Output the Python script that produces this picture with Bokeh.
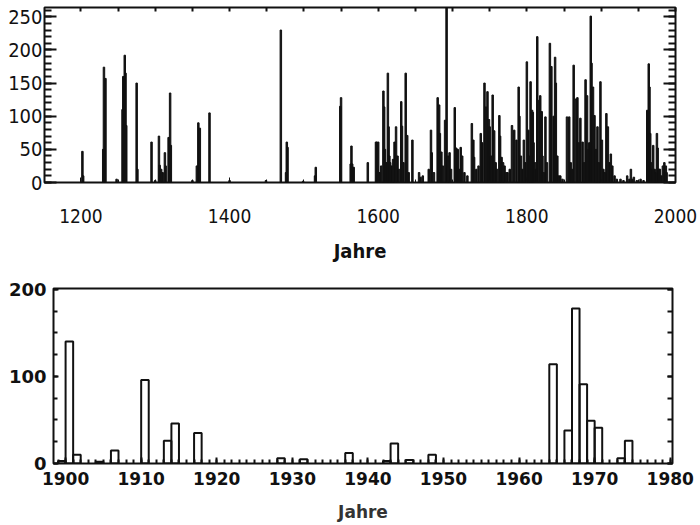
import numpy as np
from bokeh.plotting import figure
from bokeh.models import (LinearAxis, SingleIntervalTicker, Range1d, ColumnDataSource,
                          CustomJSTickFormatter)
from bokeh.embed import file_html
from bokeh.resources import INLINE

# ---------------- data: top panel (annual values, 1150-2000) ----------------
top_years = [
    1202, 1203, 1230, 1231, 1233, 1248, 1256, 1257, 1258, 1259, 1260, 1261,
    1275, 1276, 1295, 1300, 1305, 1306, 1308, 1310, 1313, 1314, 1318, 1320, 1321,
    1350, 1356, 1358, 1360, 1373, 1400, 1449, 1469, 1476, 1477, 1478, 1499,
    1515, 1516, 1549, 1550, 1563, 1564, 1565, 1567, 1586,
    1597, 1598, 1599, 1600, 1602, 1604, 1607, 1608, 1609, 1611, 1613, 1614, 1615,
    1616, 1618, 1620, 1622, 1624, 1626, 1628, 1631, 1632, 1634, 1637, 1639, 1641,
    1646, 1655, 1657, 1660, 1668, 1671, 1672, 1675, 1680, 1682, 1683, 1685, 1687,
    1690, 1692, 1694, 1696, 1698, 1703, 1705, 1707, 1709, 1711, 1713, 1716, 1720,
    1726, 1728, 1729, 1732, 1735, 1738, 1740, 1743, 1745, 1747, 1749, 1750, 1752,
    1754, 1756, 1758, 1760, 1763, 1764, 1766, 1768, 1770, 1772, 1774, 1777,
    1780, 1783, 1786, 1789, 1790, 1792, 1794, 1796, 1798, 1800, 1802, 1803, 1805,
    1807, 1808, 1809, 1811, 1812, 1814, 1815, 1818, 1820, 1821, 1823, 1825, 1827,
    1831, 1833, 1836, 1838, 1839, 1841, 1843, 1845, 1848, 1854, 1857, 1859, 1861,
    1863, 1866, 1868, 1870, 1872, 1875, 1877, 1879, 1881, 1883, 1884,
    1886, 1887, 1889, 1891, 1893, 1895, 1897, 1899, 1901, 1903, 1905, 1907, 1909,
    1911, 1913, 1915, 1918, 1921, 1926, 1930, 1935, 1938, 1940, 1942, 1944, 1948,
    1953, 1957, 1962, 1963, 1964, 1965, 1966, 1967, 1968, 1970, 1972, 1973, 1975,
    1976, 1978, 1979, 1981, 1983, 1985, 1987, 1988,
]
top_vals = [
    47, 10, 50, 174, 157, 5, 110, 160, 86, 192, 165, 86,
    150, 20, 61, 3, 70, 26, 20, 15, 45, 25, 68, 135, 56,
    3, 25, 90, 82, 105, 3, 3, 230, 15, 61, 53, 2,
    10, 23, 115, 128, 28, 55, 28, 23, 30,
    61, 61, 20, 61, 15, 25, 138, 114, 50, 30, 165, 84, 40,
    30, 25, 35, 61, 84, 40, 20, 122, 85, 30, 165, 71, 15,
    64, 15, 8, 10, 20, 79, 45, 15, 128, 117, 74, 46, 25,
    94, 265, 40, 45, 20, 113, 52, 50, 20, 53, 40, 15, 10,
    89, 64, 38, 20, 25, 74, 60, 150, 114, 137, 95, 84, 40,
    132, 78, 30, 20, 101, 70, 38, 30, 25, 15, 15, 20,
    86, 79, 64, 144, 100, 40, 20, 64, 30, 182, 79, 40, 152,
    109, 106, 60, 30, 20, 220, 124, 131, 107, 40, 15, 99, 30,
    210, 175, 100, 189, 150, 40, 10, 10, 5, 99, 99, 30, 20,
    177, 126, 128, 60, 97, 61, 30, 155, 131, 50, 60,
    251, 180, 144, 101, 50, 84, 30, 152, 64, 20, 15, 104, 84,
    30, 43, 25, 10, 5, 5, 3, 10, 5, 20, 5, 8, 3,
    5, 3, 109, 60, 179, 144, 74, 30, 20, 56, 20, 15, 74,
    52, 20, 20, 10, 25, 30, 25, 15,
]
top_xticks_interval = 200
top_yticks_interval = 50

# ---------------- data: bottom panel (1899-1980, one bar per year) ----------------
bot_years = [1899, 1900, 1901, 1904, 1906, 1910, 1913, 1914, 1917, 1928, 1931,
             1937, 1942, 1943, 1945, 1948, 1964, 1966, 1967, 1968, 1969, 1970,
             1973, 1974]
bot_vals = [3, 140, 10, 2, 15, 96, 26, 46, 35, 6, 5,
            12, 3, 23, 4, 10, 114, 38, 178, 91, 49, 41,
            6, 26]

INK = "#111111"
COND = "DejaVu Sans Condensed"


def tick_only_axis(interval, minor, major_len, minor_len):
    ax = LinearAxis(ticker=SingleIntervalTicker(interval=interval, num_minor_ticks=minor),
                    formatter=CustomJSTickFormatter(code="return ''"))
    ax.axis_line_color = None
    ax.major_tick_in = major_len
    ax.major_tick_out = 0
    ax.minor_tick_in = minor_len
    ax.minor_tick_out = 0
    ax.major_tick_line_width = 2
    ax.minor_tick_line_width = 2
    ax.major_tick_line_color = INK
    ax.minor_tick_line_color = INK if minor_len else None
    ax.major_label_text_font_size = "0px"
    ax.major_label_text_color = None
    ax.major_label_standoff = 0
    return ax


# ================= top figure =================
p1 = figure(width=700, height=272, x_range=Range1d(1151, 2000), y_range=Range1d(0, 264),
            output_backend="svg", toolbar_location=None,
            min_border_left=44, min_border_right=25, min_border_top=7, min_border_bottom=90)
p1.grid.visible = False
p1.outline_line_color = INK
p1.outline_line_width = 2
p1.background_fill_color = "white"
p1.border_fill_color = "white"

p1.vbar(x=top_years, top=top_vals, width=2.0, color=INK)

xa = p1.xaxis[0]
xa.ticker = SingleIntervalTicker(interval=top_xticks_interval, num_minor_ticks=4)
xa.axis_line_color = None
xa.major_tick_in = 5
xa.major_tick_out = 0
xa.minor_tick_in = 3
xa.minor_tick_out = 0
xa.major_tick_line_color = INK
xa.minor_tick_line_color = INK
xa.major_label_standoff = 26
xa.major_label_text_font = COND
xa.major_label_text_font_size = "19px"
xa.major_label_text_color = INK
xa.axis_label = "Jahre"
xa.axis_label_text_font = COND
xa.axis_label_text_font_style = "bold"
xa.axis_label_text_font_size = "20px"
xa.axis_label_text_color = INK
xa.axis_label_standoff = 13

ya = p1.yaxis[0]
ya.ticker = SingleIntervalTicker(interval=top_yticks_interval, num_minor_ticks=5)
ya.axis_line_color = None
ya.major_tick_in = 12
ya.major_tick_out = 0
ya.minor_tick_in = 7
ya.minor_tick_out = 0
ya.major_tick_line_width = 2
ya.major_tick_line_color = INK
ya.minor_tick_line_color = INK
ya.minor_tick_line_width = 2
ya.major_label_standoff = 2
ya.major_label_text_font = COND
ya.major_label_text_font_size = "20px"
ya.major_label_text_color = INK

p1.add_layout(tick_only_axis(top_yticks_interval, 5, 12, 7), "right")
p1.add_layout(tick_only_axis(50, 0, 4, 0), "above")

# ================= bottom figure =================
p2 = figure(width=700, height=253, x_range=Range1d(1898.4, 1980.3), y_range=Range1d(0, 201),
            output_backend="svg", toolbar_location=None,
            min_border_left=53, min_border_right=28, min_border_top=16, min_border_bottom=62)
p2.grid.visible = False
p2.outline_line_color = INK
p2.outline_line_width = 2
p2.background_fill_color = "white"
p2.border_fill_color = "white"

bsrc = ColumnDataSource(dict(left=np.array(bot_years), right=np.array(bot_years) + 1,
                             top=np.array(bot_vals), bottom=np.zeros(len(bot_years))))
p2.quad(left="left", right="right", top="top", bottom="bottom", source=bsrc,
        fill_color=None, line_color=INK, line_width=2)

bx = p2.xaxis[0]
bx.ticker = SingleIntervalTicker(interval=10, num_minor_ticks=10)
bx.axis_line_color = None
bx.major_tick_in = 6
bx.major_tick_out = 0
bx.minor_tick_in = 4
bx.minor_tick_out = 0
bx.major_tick_line_width = 2
bx.minor_tick_line_width = 2
bx.major_tick_line_color = INK
bx.minor_tick_line_color = INK
bx.major_label_standoff = 8
bx.major_label_text_font = "DejaVu Sans"
bx.major_label_text_font_style = "bold"
bx.major_label_text_font_size = "17px"
bx.major_label_text_color = INK
bx.axis_label = "Jahre"
bx.axis_label_text_font = "DejaVu Sans"
bx.axis_label_text_font_style = "bold"
bx.axis_label_text_font_size = "17px"
bx.axis_label_text_color = "#333333"
bx.axis_label_standoff = 14

by = p2.yaxis[0]
by.ticker = SingleIntervalTicker(interval=100, num_minor_ticks=4)
by.axis_line_color = None
by.major_tick_in = 5
by.major_tick_out = 0
by.minor_tick_in = 4
by.minor_tick_out = 0
by.major_tick_line_width = 2
by.minor_tick_line_width = 2
by.major_tick_line_color = INK
by.minor_tick_line_color = INK
by.major_label_standoff = 7
by.major_label_text_font = "DejaVu Sans"
by.major_label_text_font_style = "bold"
by.major_label_text_font_size = "18px"
by.major_label_text_color = INK

p2.add_layout(tick_only_axis(100, 4, 5, 5), "right")

# two independent roots stacked vertically (no shared frame alignment)
open("out.html", "w").write(file_html([p1, p2], INLINE))
